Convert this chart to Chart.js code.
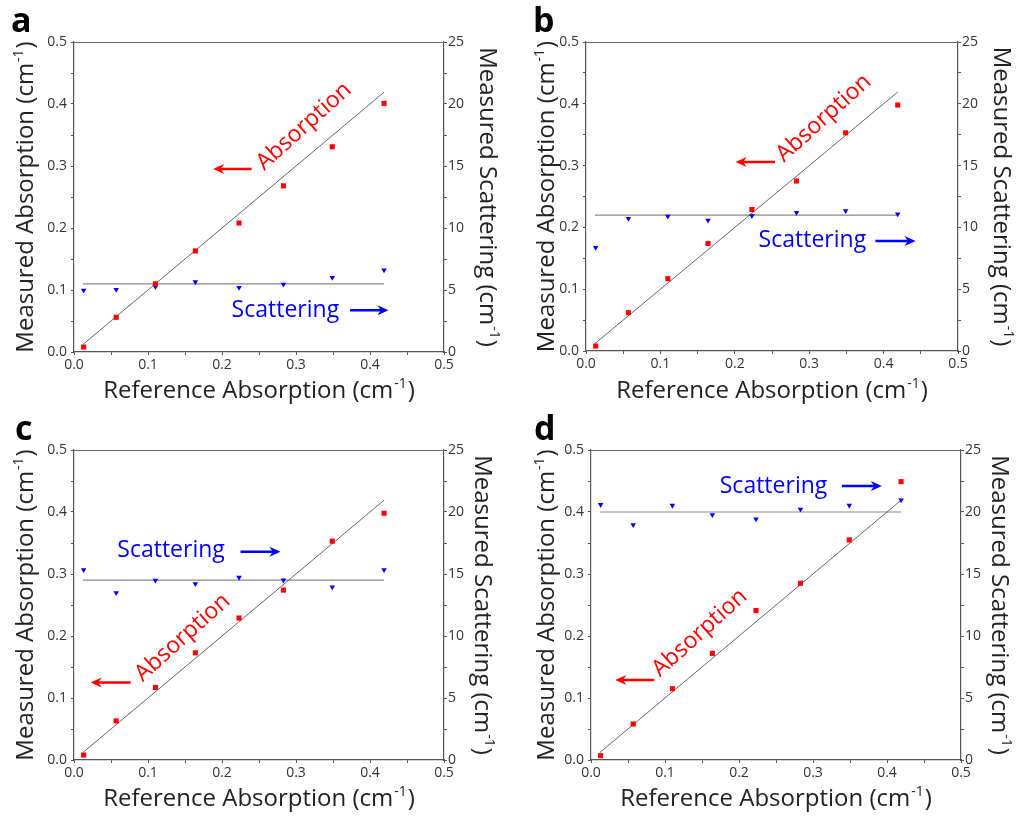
<!DOCTYPE html>
<html>
<head>
<meta charset="utf-8">
<script src="https://cdn.jsdelivr.net/npm/chart.js@4"></script>
<style>
  body { margin: 0; background: #fff; }
  #wrap { position: relative; width: 1018px; height: 816px; }
  .cell { position: absolute; width: 509px; height: 408px; }
</style>
</head>
<body>
<div id="wrap">
  <div class="cell" style="left:0;top:0"><canvas id="ca" width="509" height="408"></canvas></div>
  <div class="cell" style="left:509px;top:0"><canvas id="cb" width="509" height="408"></canvas></div>
  <div class="cell" style="left:0;top:408px"><canvas id="cc" width="509" height="408"></canvas></div>
  <div class="cell" style="left:509px;top:408px"><canvas id="cd" width="509" height="408"></canvas></div>
</div>
<script>
// reference absorption (x) shared by all four panels
const refAbs = [0.013, 0.057, 0.110, 0.164, 0.223, 0.283, 0.349, 0.419]

const absA = [0.008, 0.056, 0.110, 0.163, 0.208, 0.268, 0.331, 0.401]
const scatA = [4.98, 5.04, 5.25, 5.65, 5.2, 5.46, 6.0, 6.6]
const absB = [0.008, 0.062, 0.117, 0.174, 0.229, 0.275, 0.353, 0.398]
const scatB = [8.37, 10.72, 10.9, 10.58, 10.93, 11.2, 11.34, 11.07]
const absC = [0.008, 0.063, 0.117, 0.173, 0.229, 0.274, 0.353, 0.398]
const scatC = [15.34, 13.48, 14.48, 14.21, 14.72, 14.5, 13.94, 15.34]
const absD = [0.007, 0.058, 0.115, 0.172, 0.241, 0.285, 0.355, 0.449]
const scatD = [20.59, 18.97, 20.53, 19.78, 19.43, 20.21, 20.53, 20.96]

// expected scattering per panel and range of the reference lines
const scatFit = [5.5, 11, 14.5, 20]
const fitRange = [0.012, 0.419]

const FONT = '"Open Sans", "Noto Sans", sans-serif'
const RED = '#ff0000'
const BLUE = '#0000ff'

const panels = [
  {
    id: 'ca', letter: 'a', letterX: 11, abs: absA, scat: scatA, fit: scatFit[0],
    box: { left: 74, right: 65, bottom: 56 }, leftTitleX: 33, rightTitleX: 480,
    absNote: { x: 0.257, y: 0.292 }, absArrow: { from: 0.240, to: 0.188, y: 0.295 },
    scatNote: { x: 0.213, y: 0.0565 }, scatArrow: { from: 0.373, to: 0.425, y: 0.0673 },
  },
  {
    id: 'cb', letter: 'b', letterX: 24, abs: absB, scat: scatB, fit: scatFit[1],
    box: { left: 77, right: 60, bottom: 57 }, leftTitleX: 45, rightTitleX: 485,
    absNote: { x: 0.266, y: 0.3045 }, absArrow: { from: 0.254, to: 0.201, y: 0.306 },
    scatNote: { x: 0.232, y: 0.168 }, scatArrow: { from: 0.389, to: 0.443, y: 0.178 },
  },
  {
    id: 'cc', letter: 'c', letterX: 15, abs: absC, scat: scatC, fit: scatFit[2],
    box: { left: 74, right: 65, bottom: 56 }, leftTitleX: 33, rightTitleX: 475,
    absNote: { x: 0.093, y: 0.1254 }, absArrow: { from: 0.0766, to: 0.0225, y: 0.125 },
    scatNote: { x: 0.0585, y: 0.328 }, scatArrow: { from: 0.225, to: 0.279, y: 0.336 },
  },
  {
    id: 'cd', letter: 'd', letterX: 25, abs: absD, scat: scatD, fit: scatFit[3],
    box: { left: 82, right: 57, bottom: 56 }, leftTitleX: 45, rightTitleX: 483,
    absNote: { x: 0.0932, y: 0.133 }, absArrow: { from: 0.0855, to: 0.0328, y: 0.129 },
    scatNote: { x: 0.174, y: 0.4305 }, scatArrow: { from: 0.339, to: 0.393, y: 0.442 },
  },
]

function supText(ctx, main, tail, x, y, rot) {
  ctx.save()
  ctx.translate(x, y)
  ctx.rotate(rot)
  ctx.fillStyle = '#222'
  ctx.textAlign = 'left'
  ctx.textBaseline = 'alphabetic'
  ctx.font = '24px ' + FONT
  const w1 = ctx.measureText(main).width
  const w3 = ctx.measureText(tail).width
  ctx.font = '14px ' + FONT
  const w2 = ctx.measureText('-1').width
  const sx = -(w1 + w2 + w3 + 2) / 2
  ctx.font = '24px ' + FONT
  ctx.fillText(main, sx, 0)
  ctx.font = '14px ' + FONT
  ctx.fillText('-1', sx + w1 + 1, -10)
  ctx.font = '24px ' + FONT
  ctx.fillText(tail, sx + w1 + w2 + 2, 0)
  ctx.restore()
}

function arrow(ctx, xFrom, xTo, y, color) {
  const dir = Math.sign(xTo - xFrom)
  const head = 11
  ctx.strokeStyle = color
  ctx.fillStyle = color
  ctx.lineWidth = 2.5
  ctx.beginPath()
  ctx.moveTo(xFrom, y)
  ctx.lineTo(xTo - dir * head * 0.6, y)
  ctx.stroke()
  ctx.beginPath()
  ctx.moveTo(xTo, y)
  ctx.lineTo(xTo - dir * head, y - 5)
  ctx.lineTo(xTo - dir * head * 0.7, y)
  ctx.lineTo(xTo - dir * head, y + 5)
  ctx.closePath()
  ctx.fill()
}

function DecorPlugin(p) {
  return {
    id: 'decor',
    afterDraw(chart) {
      const { ctx, chartArea: ca, scales } = chart
      const X = (v) => scales.x.getPixelForValue(v)
      const Y = (v) => scales.y.getPixelForValue(v)
      ctx.save()
      // top frame
      ctx.strokeStyle = '#666'
      ctx.lineWidth = 1.2
      ctx.beginPath()
      ctx.moveTo(ca.left, ca.top + 0.5)
      ctx.lineTo(ca.right, ca.top + 0.5)
      ctx.stroke()

      // panel letter
      ctx.fillStyle = '#000'
      ctx.font = 'bold 34px ' + FONT
      ctx.textAlign = 'left'
      ctx.textBaseline = 'alphabetic'
      ctx.fillText(p.letter, p.letterX, 32)

      // axis titles
      const cx = (ca.left + ca.right) / 2
      const cy = (ca.top + ca.bottom) / 2
      supText(ctx, 'Reference Absorption (cm', ')', cx, 398, 0)
      supText(ctx, 'Measured Absorption (cm', ')', p.leftTitleX, cy, -Math.PI / 2)
      supText(ctx, 'Measured Scattering (cm', ')', p.rightTitleX, cy, Math.PI / 2)

      // notes
      ctx.font = '23px ' + FONT
      ctx.fillStyle = RED
      ctx.save()
      ctx.translate(X(p.absNote.x), Y(p.absNote.y))
      ctx.rotate((-42 * Math.PI) / 180)
      ctx.fillText('Absorption', 0, 0)
      ctx.restore()
      arrow(ctx, X(p.absArrow.from), X(p.absArrow.to), Y(p.absArrow.y), RED)

      ctx.font = '23px ' + FONT
      ctx.fillStyle = BLUE
      ctx.fillText('Scattering', X(p.scatNote.x), Y(p.scatNote.y))
      arrow(ctx, X(p.scatArrow.from), X(p.scatArrow.to), Y(p.scatArrow.y), BLUE)
      ctx.restore()
    },
  }
}

function axisOpts(extra) {
  return {
    type: 'linear',
    grid: { drawOnChartArea: false, drawTicks: true, tickLength: 3, color: '#555' },
    border: { display: true, color: '#555', width: 1.2 },
    ticks: { color: '#333', font: { family: FONT, size: 14 } },
    ...extra,
  }
}

function isMultiple(v, step) {
  return Math.abs(v / step - Math.round(v / step)) < 1e-6
}

panels.forEach((p) => {
  const ctx = document.getElementById(p.id).getContext('2d')
  const data = {
    datasets: [
      {
        label: 'absorption',
        data: refAbs.map((x, i) => ({ x, y: p.abs[i] })),
        yAxisID: 'y',
        pointStyle: 'rect',
        pointRadius: 3.6,
        backgroundColor: RED,
        borderColor: RED,
        borderWidth: 0,
      },
      {
        label: 'scattering',
        data: refAbs.map((x, i) => ({ x, y: p.scat[i] })),
        yAxisID: 'y2',
        pointStyle: 'triangle',
        rotation: 180,
        pointRadius: 3.2,
        backgroundColor: BLUE,
        borderColor: BLUE,
        borderWidth: 0,
      },
      {
        label: 'absorption fit',
        data: fitRange.map((x) => ({ x, y: x })),
        yAxisID: 'y',
        showLine: true,
        pointRadius: 0,
        borderColor: '#555',
        borderWidth: 0.9,
      },
      {
        label: 'scattering fit',
        data: fitRange.map((x) => ({ x, y: p.fit })),
        yAxisID: 'y2',
        showLine: true,
        pointRadius: 0,
        borderColor: '#888',
        borderWidth: 1.2,
      },
    ],
  }
  const options = {
    responsive: false,
    animation: false,
    devicePixelRatio: 1,
    events: [],
    layout: { padding: { top: 42, left: 0, right: 0, bottom: 0 } },
    plugins: { legend: { display: false }, tooltip: { enabled: false } },
    scales: {
      x: axisOpts({
        position: 'bottom',
        min: 0,
        max: 0.5,
        afterFit: (s) => { s.height = p.box.bottom },
        ticks: {
          color: '#333',
          font: { family: FONT, size: 14 },
          stepSize: 0.05,
          padding: 2,
          maxRotation: 0,
          autoSkip: false,
          callback: (v) => (isMultiple(v, 0.1) ? v.toFixed(1) : ''),
        },
      }),
      y: axisOpts({
        position: 'left',
        min: 0,
        max: 0.5,
        afterFit: (s) => { s.width = p.box.left },
        ticks: {
          color: '#333',
          font: { family: FONT, size: 14 },
          stepSize: 0.05,
          padding: 4,
          autoSkip: false,
          callback: (v) => (isMultiple(v, 0.1) ? v.toFixed(1) : ''),
        },
      }),
      y2: axisOpts({
        position: 'right',
        min: 0,
        max: 25,
        afterFit: (s) => { s.width = p.box.right },
        ticks: {
          color: '#333',
          font: { family: FONT, size: 14 },
          stepSize: 2.5,
          padding: 1,
          autoSkip: false,
          callback: (v) => (isMultiple(v, 5) ? String(Math.round(v)) : ''),
        },
      }),
    },
  }
  new Chart(ctx, { type: 'scatter', data, options, plugins: [DecorPlugin(p)] })
})
</script>
</body>
</html>
